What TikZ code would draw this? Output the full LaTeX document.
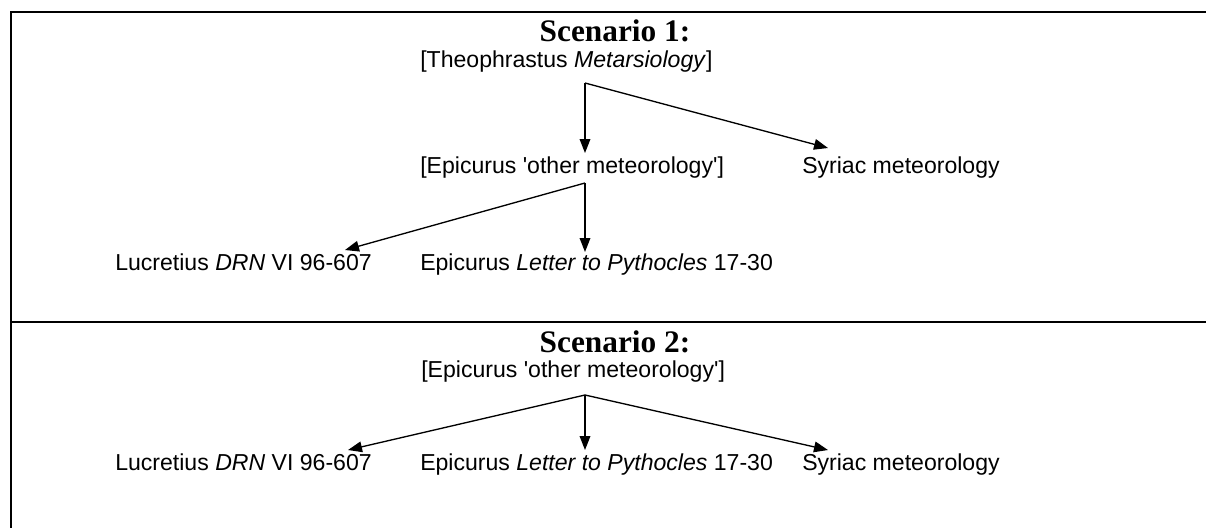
\documentclass[tikz,border=0pt]{standalone}
\usepackage{fontspec}
\setmainfont{Liberation Sans}
\newfontfamily\headfont{Liberation Serif}
\usetikzlibrary{arrows.meta,calc}

\begin{document}
\begin{tikzpicture}[x=0.75pt,y=-0.75pt,
  frame/.style={line width=1.8pt},
  src/.style={anchor=base west,inner sep=0pt,font=\fontsize{17.3}{20}\selectfont},
  heading/.style={anchor=base,inner sep=0pt,font=\headfont\bfseries\fontsize{23.5}{28}\selectfont},
  link/.style={line width=1pt,-{Triangle[length=10.5pt,width=8pt]}}]

\useasboundingbox (0,0) rectangle (1206,528);

% table rules
\draw[frame] (11,528) -- (11,12) -- (1206,12);
\draw[frame] (11,322) -- (1206,322);

% ---- Scenario 1 ----
\node[heading] (h1) at (615,42) {Scenario 1:};
\node[src] (theo) at (420,68) {[Theophrastus \textit{Metarsiology}]};
\node[src] (epi1) at (420,173) {[Epicurus \textquotesingle other meteorology\textquotesingle]};
\node[src] (syr1) at (802,173) {Syriac meteorology};
\node[src] (luc1) at (115,270) {Lucretius \textit{DRN} VI 96-607};
\node[src] (let1) at (420,270) {Epicurus \textit{Letter to Pythocles} 17-30};

\coordinate (j1) at (585,83);
\draw[link] (j1) -- ($(j1 |- epi1.north)+(0,-3)$);
\draw[link] (j1) -- ($(syr1.north west)+(26,-8)$);

\coordinate (j2) at (585,183);
\draw[link] (j2) -- ($(j2 |- let1.north)+(0,-1)$);
\draw[link] (j2) -- ($(luc1.north west)+(230,-3)$);

% ---- Scenario 2 ----
\node[heading] (h2) at (615,352) {Scenario 2:};
\node[src] (epi2) at (421,377) {[Epicurus \textquotesingle other meteorology\textquotesingle]};
\node[src] (luc2) at (115,470) {Lucretius \textit{DRN} VI 96-607};
\node[src] (let2) at (420,470) {Epicurus \textit{Letter to Pythocles} 17-30};
\node[src] (syr2) at (802,470) {Syriac meteorology};

\coordinate (j3) at (585,395);
\draw[link] (j3) -- ($(luc2.north west)+(233,-3)$);
\draw[link] (j3) -- ($(j3 |- let2.north)+(0,-3)$);
\draw[link] (j3) -- ($(syr2.north west)+(26,-3)$);
\end{tikzpicture}
\end{document}
